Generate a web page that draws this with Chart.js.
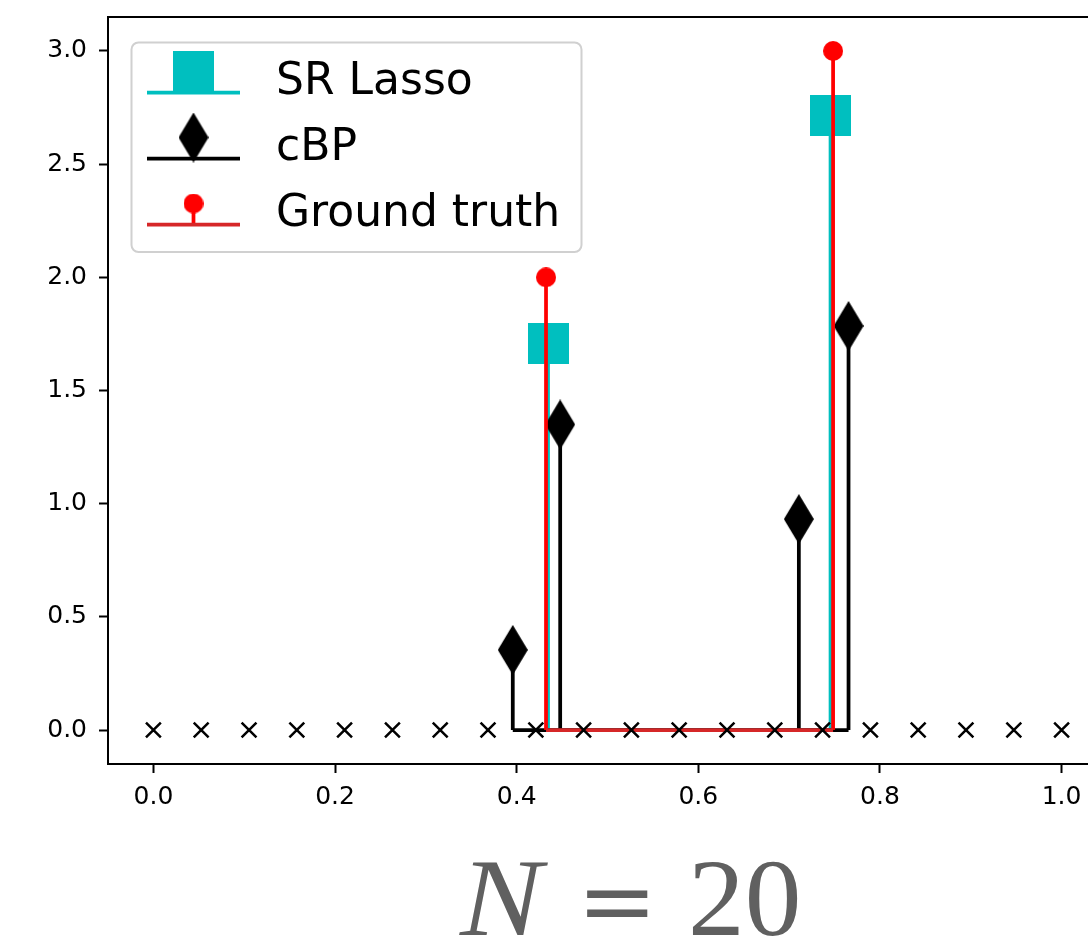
<!DOCTYPE html>
<html>
<head>
<meta charset="utf-8">
<script src="https://cdn.jsdelivr.net/npm/chart.js@4.4.1/dist/chart.umd.min.js"></script>
<style>
html,body{margin:0;padding:0;background:#fff;overflow:hidden;width:1088px;height:946px;}
#wrap{position:relative;width:1088px;height:946px;overflow:hidden;background:#fff;}
#c{position:absolute;left:0;top:0;}
.t{position:absolute;top:843px;line-height:110px;font-size:110px;color:#606060;white-space:nowrap;}
#tN{left:460px;font-family:"Liberation Serif",serif;font-style:italic;transform:scaleX(1.12);transform-origin:left center;}
#tEq{left:577px;top:846px;font-family:"DejaVu Serif",serif;font-size:96px;}
#tNum{left:688px;font-family:"Liberation Serif",serif;transform:scaleX(1.03);transform-origin:left center;}
</style>
</head>
<body>
<div id="wrap">
<canvas id="c" width="1140" height="946"></canvas>
<span class="t" id="tN">N</span><span class="t" id="tEq">=</span><span class="t" id="tNum">20</span>
</div>
<script>
// ---------------- data ----------------
const seriesNames = ['SR Lasso', 'cBP', 'Ground truth'];
const gridX = [0, 0.0526, 0.1053, 0.1579, 0.2105, 0.2632, 0.3158, 0.3684, 0.4211, 0.4737,
               0.5263, 0.5789, 0.6316, 0.6842, 0.7368, 0.7895, 0.8421, 0.8947, 0.9474, 1.0];
const gridY = [0, 0, 0, 0, 0, 0, 0, 0, 0, 0, 0, 0, 0, 0, 0, 0, 0, 0, 0, 0];
const srLassoX = [0.4345, 0.7456];
const srLassoY = [1.708, 2.715];
const cbpX = [0.3957, 0.4479, 0.7107, 0.7654];
const cbpY = [0.354, 1.350, 0.932, 1.785];
const truthX = [0.4323, 0.7484];
const truthY = [2.0, 3.0];
const xTickVals = [0.0, 0.2, 0.4, 0.6, 0.8, 1.0];
const yTickVals = [0.0, 0.5, 1.0, 1.5, 2.0, 2.5, 3.0];

// ---------------- styles ----------------
const CYAN = '#00bfbf', BLACK = '#000000', RED = '#ff0000', C3 = '#d62728';
const FONT = '"DejaVu Sans", sans-serif';

function mk(w, h, draw) {
  const c = document.createElement('canvas');
  c.width = w; c.height = h;
  draw(c.getContext('2d'), w, h);
  return c;
}
const squareImg = mk(41, 41, (g, w, h) => { g.fillStyle = CYAN; g.fillRect(0, 0, w, h); });
const diamondImg = mk(30, 50, (g, w, h) => {
  g.fillStyle = BLACK; g.beginPath();
  g.moveTo(w / 2, 0); g.lineTo(w, h / 2); g.lineTo(w / 2, h); g.lineTo(0, h / 2);
  g.closePath(); g.fill();
});
const circleImg = mk(20, 20, (g) => {
  g.fillStyle = RED; g.beginPath(); g.arc(10, 10, 10, 0, Math.PI * 2); g.fill();
});

function pts(xs, ys) { return xs.map((x, i) => ({ x: x, y: ys[i] })); }
function stems(xs, ys) {
  const out = [];
  xs.forEach((x, i) => { out.push({ x: x, y: 0 }, { x: x, y: ys[i] }, { x: x, y: null }); });
  return out;
}
function base(xs) {
  return [{ x: Math.min(...xs), y: 0 }, { x: Math.max(...xs), y: 0 }];
}
function lineDs(data, color, order) {
  return { data: data, showLine: true, spanGaps: false, borderColor: color, backgroundColor: color,
           borderWidth: 3.75, pointRadius: 0, order: order, borderCapStyle: 'butt', clip: false };
}
function markDs(data, img, order) {
  return { data: data, showLine: false, pointStyle: img, pointRadius: 20, order: order, clip: false };
}

const datasets = [
  { data: pts(gridX, gridY), showLine: false, pointStyle: 'crossRot', pointRadius: 10.5,
    pointBorderWidth: 2.5, borderColor: BLACK, backgroundColor: BLACK, order: 0 },
  markDs(pts(truthX, truthY), circleImg, 1),
  lineDs(base(truthX), C3, 2),
  lineDs(stems(truthX, truthY), RED, 3),
  markDs(pts(cbpX, cbpY), diamondImg, 4),
  lineDs(base(cbpX), BLACK, 5),
  lineDs(stems(cbpX, cbpY), BLACK, 6),
  markDs(pts(srLassoX, srLassoY), squareImg, 7),
  lineDs(base(srLassoX), CYAN, 8),
  lineDs(stems(srLassoX, srLassoY), CYAN, 9)
];

const framePlugin = {
  id: 'frame',
  afterDraw(chart) {
    const a = chart.chartArea, ctx = chart.ctx;
    ctx.save();
    ctx.strokeStyle = BLACK; ctx.lineWidth = 2;
    ctx.beginPath();
    ctx.moveTo(a.left, a.top); ctx.lineTo(a.right, a.top); ctx.lineTo(a.right, a.bottom);
    ctx.stroke();
    ctx.restore();
  }
};

const legendPlugin = {
  id: 'stemLegend',
  afterDraw(chart) {
    const ctx = chart.ctx;
    ctx.save();
    const bx = 131.5, by = 42.5, bw = 450, bh = 209.5, r = 7;
    ctx.beginPath();
    ctx.moveTo(bx + r, by); ctx.lineTo(bx + bw - r, by); ctx.arcTo(bx + bw, by, bx + bw, by + r, r);
    ctx.lineTo(bx + bw, by + bh - r); ctx.arcTo(bx + bw, by + bh, bx + bw - r, by + bh, r);
    ctx.lineTo(bx + r, by + bh); ctx.arcTo(bx, by + bh, bx, by + bh - r, r);
    ctx.lineTo(bx, by + r); ctx.arcTo(bx, by, bx + r, by, r); ctx.closePath();
    ctx.fillStyle = 'rgba(255,255,255,0.8)'; ctx.fill();
    ctx.strokeStyle = '#d0d0d0'; ctx.lineWidth = 2; ctx.stroke();

    const rows = [
      { base: CYAN, stem: CYAN, img: squareImg },
      { base: BLACK, stem: BLACK, img: diamondImg },
      { base: C3, stem: RED, img: circleImg }
    ];
    const ys = [92.5, 158.5, 224.5];
    const hx0 = 147, hx1 = 240, hc = 193.5;
    rows.forEach((row, i) => {
      const y = ys[i], my = y - 21;
      ctx.lineWidth = 3.75; ctx.lineCap = 'butt';
      ctx.strokeStyle = row.stem;
      ctx.beginPath(); ctx.moveTo(hc, y); ctx.lineTo(hc, my); ctx.stroke();
      ctx.strokeStyle = row.base;
      ctx.beginPath(); ctx.moveTo(hx0, y); ctx.lineTo(hx1, y); ctx.stroke();
      ctx.drawImage(row.img, hc - row.img.width / 2, my - row.img.height / 2);
      ctx.fillStyle = BLACK;
      ctx.font = '44px ' + FONT;
      ctx.textBaseline = 'alphabetic'; ctx.textAlign = 'left';
      ctx.fillText(seriesNames[i], 276, y + 1);
    });
    ctx.restore();
  }
};

new Chart(document.getElementById('c'), {
  type: 'scatter',
  data: { datasets: datasets },
  options: {
    responsive: false,
    animation: false,
    events: [],
    layout: { autoPadding: false, padding: { top: 17, right: 33, left: 0, bottom: 0 } },
    plugins: { legend: { display: false }, tooltip: { enabled: false }, title: { display: false } },
    scales: {
      x: {
        type: 'linear', min: -0.05, max: 1.05,
        afterFit(s) { s.height = 182; s.paddingLeft = 0; s.paddingRight = 0; },
        afterBuildTicks(s) { s.ticks = xTickVals.map(v => ({ value: v })); },
        grid: { display: true, drawOnChartArea: false, drawTicks: true, tickLength: 9, tickWidth: 2, tickColor: BLACK },
        border: { display: true, color: BLACK, width: 2 },
        ticks: { color: BLACK, font: { family: FONT, size: 25 }, padding: 9, maxRotation: 0,
                 callback: v => Number(v).toFixed(1) }
      },
      y: {
        type: 'linear', min: -0.15, max: 3.15,
        afterFit(s) { s.width = 108; s.paddingTop = 0; s.paddingBottom = 0; },
        afterBuildTicks(s) { s.ticks = yTickVals.map(v => ({ value: v })); },
        grid: { display: true, drawOnChartArea: false, drawTicks: true, tickLength: 9, tickWidth: 2, tickColor: BLACK },
        border: { display: true, color: BLACK, width: 2 },
        ticks: { color: BLACK, font: { family: FONT, size: 25 }, padding: 12,
                 callback: v => Number(v).toFixed(1) }
      }
    }
  },
  plugins: [framePlugin, legendPlugin]
});
</script>
</body>
</html>
